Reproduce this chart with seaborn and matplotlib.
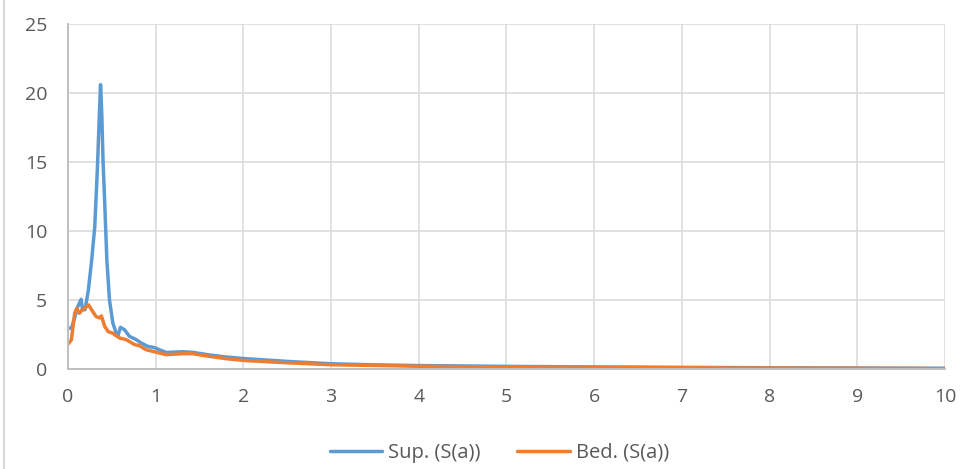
import pandas as pd
import matplotlib.pyplot as plt
import seaborn as sns

# Sup. (S(a)) series
sup_x = [0, 0.04, 0.08, 0.11, 0.15, 0.165, 0.194, 0.232, 0.27, 0.305, 0.335, 0.355,
         0.371, 0.385, 0.40, 0.417, 0.443, 0.473, 0.511, 0.549, 0.568, 0.598, 0.644,
         0.70, 0.777, 0.833, 0.909, 0.985, 1.04, 1.12, 1.2, 1.31, 1.42, 1.61, 1.8,
         2.0, 2.5, 3.0, 3.5, 4.0, 5.0, 6.0, 7.0, 8.0, 9.0, 10.0]
sup_y = [2.95, 2.97, 3.8, 4.5, 5.05, 4.28, 4.3, 5.7, 7.9, 10.3, 14.5, 18.0,
         20.6, 18.5, 15.0, 12.3, 7.9, 5.0, 3.34, 2.6, 2.37, 3.02, 2.85,
         2.37, 2.13, 1.89, 1.64, 1.55, 1.4, 1.2, 1.22, 1.25, 1.21, 1.02, 0.87,
         0.76, 0.55, 0.38, 0.3, 0.25, 0.19, 0.15, 0.12, 0.09, 0.07, 0.05]

# Bed. (S(a)) series
bed_x = [0, 0.038, 0.076, 0.1, 0.13, 0.16, 0.19, 0.235, 0.27, 0.32, 0.36, 0.38,
         0.42, 0.46, 0.51, 0.53, 0.587, 0.663, 0.758, 0.814, 0.89, 0.966, 1.12,
         1.31, 1.42, 1.61, 1.8, 2.0, 2.5, 3.0, 4.0, 5.0, 6.0, 7.0, 8.0, 9.0, 10.0]
bed_y = [1.81, 2.1, 4.04, 4.4, 4.04, 4.28, 4.4, 4.64, 4.28, 3.8, 3.7, 3.85,
         3.07, 2.7, 2.6, 2.49, 2.25, 2.13, 1.77, 1.69, 1.40, 1.28, 1.04,
         1.11, 1.11, 0.92, 0.75, 0.62, 0.45, 0.31, 0.2, 0.15, 0.12, 0.09, 0.07, 0.05, 0.03]

labels = ['Sup. (S(a))', 'Bed. (S(a))']
colors = ['#5B9BD5', '#ED7D31']

df = pd.concat([
    pd.DataFrame({'x': sup_x, 'y': sup_y, 'series': labels[0]}),
    pd.DataFrame({'x': bed_x, 'y': bed_y, 'series': labels[1]}),
])

sns.set_style('white')
plt.rcParams['font.family'] = ['Open Sans', 'DejaVu Sans']

fig = plt.figure(figsize=(9.66, 4.69), dpi=100)
ax = fig.add_axes([68 / 966, 1 - 369 / 469, 877 / 966, 345 / 469])

sns.lineplot(data=df, x='x', y='y', hue='series', palette=colors, linewidth=2.5,
             sort=False, estimator=None, ax=ax, legend=False)

ax.set_xlim(0, 10)
ax.set_ylim(0, 25)
ax.set_xticks(range(0, 11))
ax.set_yticks(range(0, 26, 5))
ax.set_xlabel('')
ax.set_ylabel('')
ax.grid(True, color='#d9d9d9', linewidth=1.1)
ax.set_axisbelow(True)
for side in ['top', 'right']:
    ax.spines[side].set_visible(False)
for side in ['left', 'bottom']:
    ax.spines[side].set_color('#bfbfbf')
    ax.spines[side].set_linewidth(1.4)
ax.tick_params(axis='both', length=0, labelsize=14, labelcolor='#595959')
ax.tick_params(axis='y', pad=15)
ax.tick_params(axis='x', pad=14)

handles = [plt.Line2D([], [], color=c, linewidth=2.5) for c in colors]
fig.legend(handles, labels, loc='lower center', bbox_to_anchor=(0.517, -0.025), ncol=2,
           frameon=False, fontsize=14.5, labelcolor='#595959', handlelength=2.6,
           handletextpad=0.3, columnspacing=1.8)

# chart frame: only the left edge shows in the picture
fig.add_artist(plt.Line2D([4 / 966, 4 / 966], [0, 1], transform=fig.transFigure,
                          color='#d9d9d9', linewidth=1.5))

fig.savefig('out.png', dpi=100)
